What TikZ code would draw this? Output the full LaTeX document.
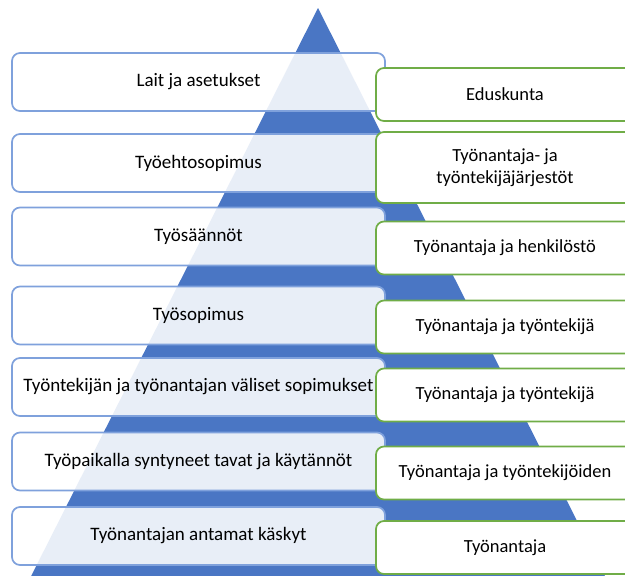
\documentclass[tikz,border=0pt]{standalone}
\usepackage{fontspec}
\setmainfont{Carlito}
\definecolor{pyrblue}{HTML}{4A76C4}
\definecolor{lboxline}{HTML}{7FA1DC}
\definecolor{gboxline}{HTML}{70AD47}

\begin{document}
\begin{tikzpicture}[x=1pt, y=-1pt,
     lbox/.style = {draw=lboxline, line width=1.7pt, rounded corners=8pt, fill=white, fill opacity=0.88, text opacity=1,
      minimum width=373pt, minimum height=58pt, inner sep=0pt, font=\fontsize{19}{23}\selectfont},
     gbox/.style = {draw=gboxline, line width=1.7pt, rounded corners=8pt, fill=white,
      minimum width=258pt, minimum height=53pt, inner sep=0pt, align=center, font=\fontsize{18.5}{22.5}\selectfont},
     pyr/.style = {fill=pyrblue}
    ]
    \useasboundingbox (0,0) rectangle (625,576);
    \begin{scope}
    \clip (0,0) rectangle (625,576);
    \coordinate (top) at (318,8);
    \fill[pyr] (top) -- (19,600) -- (617,600) -- cycle;

    \node [lbox] (laki) at (198.5,82) {Lait ja asetukset};
    \node [lbox, below of=laki, node distance=81pt] (tes) {Työehtosopimus};
    \node [lbox, below of=tes, node distance=73.5pt] (saannot) {Työsäännöt};
    \node [lbox, below of=saannot, node distance=79pt] (sopimus) {Työsopimus};
    \node [lbox, below of=sopimus, node distance=71.5pt] (valiset) {Työntekijän ja työnantajan väliset sopimukset};
    \node [lbox, below of=valiset, node distance=74.5pt] (tavat) {Työpaikalla syntyneet tavat ja käytännöt};
    \node [lbox, below of=tavat, node distance=74.5pt] (kaskyt) {Työnantajan antamat käskyt};

    \node [gbox, right of=laki, node distance=306.5pt, yshift=-12.5pt] (eduskunta) {Eduskunta};
    \node [gbox, right of=tes, node distance=306.5pt, yshift=-4.5pt, minimum height=71pt] (jarjestot) {Työnantaja- ja\\työntekijäjärjestöt};
    \node [gbox, right of=saannot, node distance=306.5pt, yshift=-11.5pt] (henkilosto) {Työnantaja ja henkilöstö};
    \node [gbox, right of=sopimus, node distance=306.5pt, yshift=-11.5pt] (tyontekija) {Työnantaja ja työntekijä};
    \node [gbox, right of=valiset, node distance=306.5pt, yshift=-8pt] (tyontekija2) {Työnantaja ja työntekijä};
    \node [gbox, right of=tavat, node distance=306.5pt, yshift=-11.5pt] (tyontekijoiden) {Työnantaja ja työntekijöiden};
    \node [gbox, right of=kaskyt, node distance=306.5pt, yshift=-11.5pt] (tyonantaja) {Työnantaja};
    \end{scope}

\end{tikzpicture}
\end{document}
